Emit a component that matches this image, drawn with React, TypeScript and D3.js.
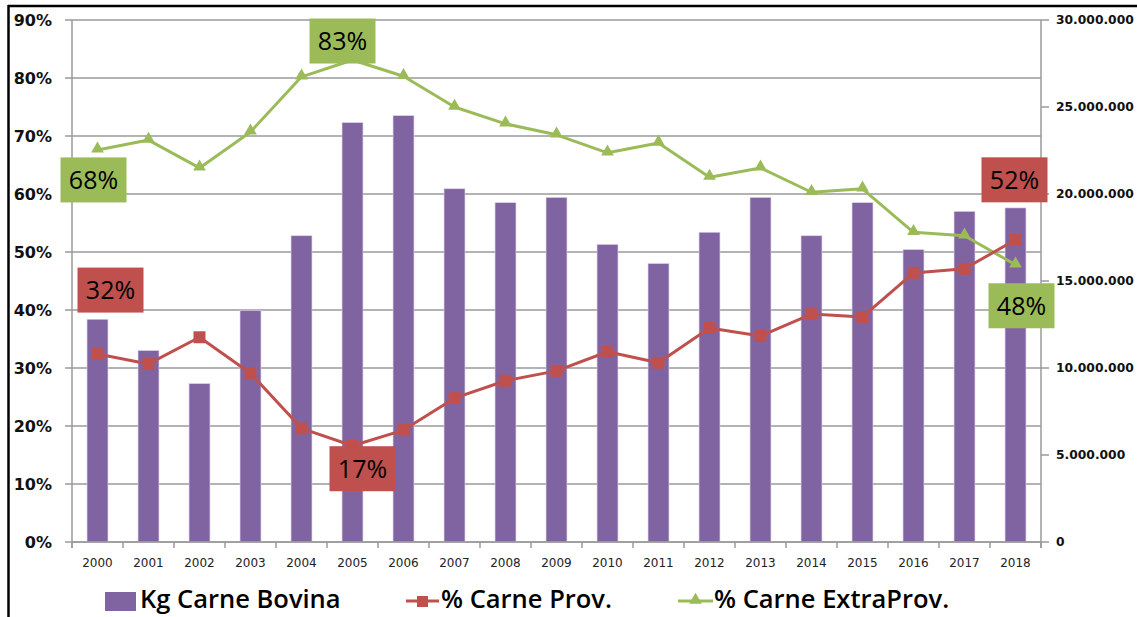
import * as d3 from 'd3';

const years = ['2000', '2001', '2002', '2003', '2004', '2005', '2006', '2007', '2008', '2009',
  '2010', '2011', '2012', '2013', '2014', '2015', '2016', '2017', '2018'];

// Kg carne bovina (right axis)
const kgBovina = [12.8e6, 11.0e6, 9.1e6, 13.3e6, 17.6e6, 24.1e6, 24.5e6, 20.3e6, 19.5e6, 19.8e6,
  17.1e6, 16.0e6, 17.8e6, 19.8e6, 17.6e6, 19.5e6, 16.8e6, 19.0e6, 19.2e6];

// % carne provincial (left axis)
const pctProv = [0.324, 0.307, 0.353, 0.291, 0.196, 0.166, 0.193, 0.248, 0.278, 0.295,
  0.328, 0.309, 0.369, 0.355, 0.393, 0.388, 0.464, 0.471, 0.521];

// % carne extra-provincial (left axis)
const pctExtra = [0.676, 0.693, 0.645, 0.707, 0.802, 0.831, 0.803, 0.75, 0.721, 0.702,
  0.671, 0.688, 0.629, 0.645, 0.603, 0.609, 0.534, 0.528, 0.478];

const leftTicks = [0, 0.1, 0.2, 0.3, 0.4, 0.5, 0.6, 0.7, 0.8, 0.9];
const rightTicks = [0, 5e6, 10e6, 15e6, 20e6, 25e6, 30e6];

// data labels: series, index, text, box offset from the point
const labels = [
  { series: 'extra', i: 0, text: '68%', dx: -4, dy: 30 },
  { series: 'extra', i: 5, text: '83%', dx: -10, dy: -19 },
  { series: 'prov', i: 0, text: '32%', dx: 13, dy: -64 },
  { series: 'prov', i: 5, text: '17%', dx: 10, dy: 23 },
  { series: 'prov', i: 18, text: '52%', dx: -1, dy: -60 },
  { series: 'extra', i: 18, text: '48%', dx: 6, dy: 41 },
];

const W = 1137;
const H = 617;
const PURPLE = '#8064A2';
const RED = '#C0504D';
const GREEN = '#9BBB59';
const GRID = '#9a9a9a';

const locale = d3.formatLocale({ decimal: ',', thousands: '.', grouping: [3], currency: ['', ''] });
const fmtKg = locale.format(',');

const App = () => {
  const left = 72;
  const right = 1041;
  const top = 20;
  const bottom = 542;

  const x = d3.scaleBand<string>().domain(years).range([left, right]).padding(0);
  const yL = d3.scaleLinear().domain([0, 0.9]).range([bottom, top]);
  const yR = d3.scaleLinear().domain([0, 30e6]).range([bottom, top]);
  const cx = (i: number) => (x(years[i]) as number) + x.bandwidth() / 2;
  const barW = x.bandwidth() * 0.41;

  const line = d3.line<number>().x((_, i) => cx(i)).y(d => yL(d));
  const tri = d3.symbol().type(d3.symbolTriangle).size(70)();

  const boundaries = years.map(y => x(y) as number).concat([right]);

  return (
    <div style={{ position: 'fixed', left: 0, top: 0 }}>
      <svg width={W} height={H} style={{ display: 'block', background: '#fff' }}>
        {/* frame */}
        <line x1={8} x2={W} y1={6} y2={6} stroke="#000" strokeWidth={2.5} />
        <line x1={8.5} x2={8.5} y1={5} y2={H} stroke="#000" strokeWidth={2.5} />

        {/* gridlines */}
        {leftTicks.map(t => (
          <line key={'g' + t} x1={left} x2={right} y1={yL(t)} y2={yL(t)} stroke={GRID} strokeWidth={1.5} />
        ))}

        {/* left axis */}
        <line x1={left} x2={left} y1={top} y2={bottom + 6} stroke={GRID} strokeWidth={1.5} />
        {leftTicks.map(t => (
          <g key={'l' + t}>
            <line x1={left - 7} x2={left} y1={yL(t)} y2={yL(t)} stroke={GRID} strokeWidth={1.5} />
            <text x={52} y={yL(t)} dy="0.35em" textAnchor="end"
              fontFamily="DejaVu Sans" fontWeight="bold" fontSize={16} fill="#111">
              {Math.round(t * 100) + '%'}
            </text>
          </g>
        ))}

        {/* right axis */}
        <line x1={right} x2={right} y1={top} y2={bottom + 6} stroke={GRID} strokeWidth={1.5} />
        {rightTicks.map(t => (
          <g key={'r' + t}>
            <line x1={right} x2={right + 8} y1={yR(t)} y2={yR(t)} stroke={GRID} strokeWidth={1.5} />
            <text x={1056} y={yR(t)} dy="0.35em" textAnchor="start"
              fontFamily="DejaVu Sans" fontWeight="bold" fontSize={12.3} fill="#111">
              {fmtKg(t)}
            </text>
          </g>
        ))}

        {/* bars */}
        {kgBovina.map((v, i) => (
          <rect key={'b' + i} x={cx(i) - barW / 2} y={yR(v)} width={barW} height={bottom - yR(v)}
            fill={PURPLE} stroke="#d9cfe6" strokeWidth={0.6} />
        ))}

        {/* bottom axis */}
        <line x1={left} x2={right} y1={bottom} y2={bottom} stroke={GRID} strokeWidth={1.5} />
        {boundaries.map((b, i) => (
          <line key={'t' + i} x1={b} x2={b} y1={bottom} y2={bottom + 6} stroke={GRID} strokeWidth={1.5} />
        ))}
        {years.map((yr, i) => (
          <text key={'x' + yr} x={cx(i)} y={563} dy="0.35em" textAnchor="middle"
            fontFamily="DejaVu Sans" fontSize={12} fill="#222">
            {yr}
          </text>
        ))}

        {/* lines */}
        <path d={line(pctExtra) as string} fill="none" stroke={GREEN} strokeWidth={3} strokeLinejoin="round" />
        {pctExtra.map((v, i) => (
          <path key={'tr' + i} d={tri as string} transform={`translate(${cx(i)},${yL(v) - 1})`} fill={GREEN} />
        ))}
        <path d={line(pctProv) as string} fill="none" stroke={RED} strokeWidth={3} strokeLinejoin="round" />
        {pctProv.map((v, i) => (
          <rect key={'sq' + i} x={cx(i) - 6} y={yL(v) - 6} width={12} height={12} fill={RED} />
        ))}

        {/* data labels */}
        {labels.map((l, k) => {
          const v = l.series === 'prov' ? pctProv[l.i] : pctExtra[l.i];
          const px = cx(l.i) + l.dx;
          const py = yL(v) + l.dy;
          return (
            <g key={'lb' + k}>
              <rect x={px - 33} y={py - 22.5} width={66} height={45} fill={l.series === 'prov' ? RED : GREEN} />
              <text x={px} y={py} dy="0.36em" textAnchor="middle" fontFamily="Open Sans"
                fontSize={25} fill="#000">
                {l.text}
              </text>
            </g>
          );
        })}

        {/* legend */}
        <rect x={105} y={592} width={31} height={19} fill={PURPLE} />
        <text x={140} y={599} dy="0.36em" fontFamily="Open Sans" fontWeight={600} fontSize={25.5} fill="#000">
          Kg Carne Bovina
        </text>
        <line x1={406} x2={439} y1={601} y2={601} stroke={RED} strokeWidth={3} />
        <rect x={417} y={596} width={11} height={11} fill={RED} />
        <text x={441} y={599} dy="0.36em" fontFamily="Open Sans" fontWeight={600} fontSize={25.5} fill="#000">
          % Carne Prov.
        </text>
        <line x1={678} x2={713} y1={601} y2={601} stroke={GREEN} strokeWidth={3} />
        <path d={tri as string} transform="translate(695.5,600)" fill={GREEN} />
        <text x={714} y={599} dy="0.36em" fontFamily="Open Sans" fontWeight={600} fontSize={25.5} fill="#000">
          % Carne ExtraProv.
        </text>
      </svg>
    </div>
  );
};

export default App;
